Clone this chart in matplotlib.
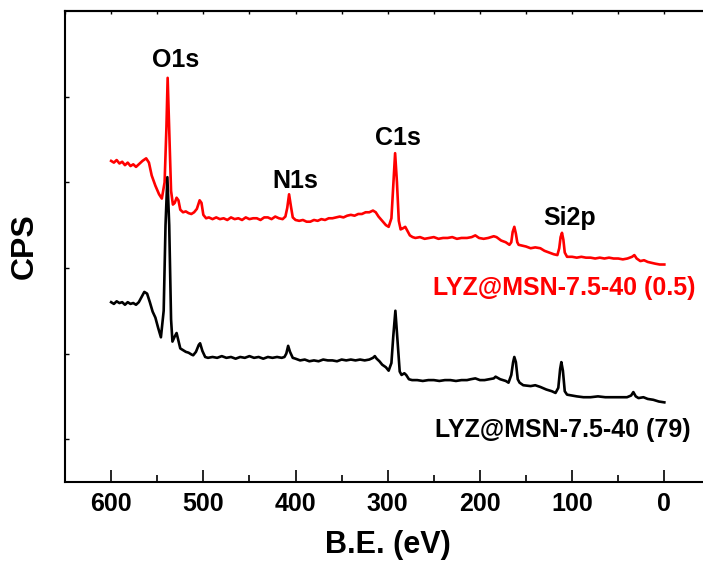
import matplotlib.pyplot as plt
from matplotlib.ticker import MultipleLocator

plt.rcParams['font.family'] = ['Liberation Sans', 'DejaVu Sans']
plt.rcParams['font.weight'] = 'bold'

# binding energy (eV) and CPS (arbitrary units)
be_red = [600, 597, 594, 591, 588, 585, 582, 579, 576, 573, 570, 566, 562, 559, 556,
          552, 548, 545, 542, 540, 538.7, 537, 535, 533, 531, 529, 527, 525, 522, 519,
          516, 513, 510, 507, 504, 502, 500, 497, 494, 490, 486, 482, 478, 474, 470,
          466, 462, 458, 454, 450, 446, 442, 438, 434, 430, 426, 422, 418, 414, 411,
          409, 407, 405, 403, 400, 396, 392, 388, 384, 380, 376, 372, 368, 364, 360,
          356, 352, 348, 344, 340, 336, 332, 328, 324, 320, 316, 313, 310, 306, 302,
          299, 296, 294, 292, 290, 288, 286, 284, 281, 279, 276, 273, 270, 265, 260,
          255, 250, 245, 240, 235, 230, 225, 220, 214, 209, 205, 201, 196, 191, 185,
          182, 177, 172, 168, 166, 164.5, 162.7, 161, 159.5, 158, 154, 150, 145, 140,
          134.5, 130, 125, 120, 116, 114, 112.5, 111, 109.5, 108, 105.5, 100, 95, 90,
          85, 80, 75, 70, 65, 60, 55, 50, 45, 40, 35, 32.5, 30, 26, 22, 18, 14, 10, 5, 0]
cps_red = [32.5, 32.3, 32.6, 32.2, 32.4, 32.0, 32.3, 31.9, 32.1, 31.8, 32.1, 32.5, 32.8, 32.3, 30.8,
           29.6, 28.6, 28.1, 30.0, 36.5, 42.2, 36.0, 29.0, 27.4, 27.6, 28.2, 27.9, 26.8, 26.5, 26.6,
           26.4, 26.3, 26.5, 26.9, 27.9, 27.6, 26.2, 25.8, 25.9, 25.7, 25.9, 25.7, 25.8, 25.6, 25.9,
           25.7, 25.8, 25.6, 25.9, 25.7, 25.8, 25.8, 25.6, 25.9, 25.9, 25.7, 26.0, 25.8, 25.7, 26.0,
           27.0, 28.6, 27.2, 25.9, 25.6, 25.5, 25.6, 25.4, 25.4, 25.6, 25.5, 25.7, 25.6, 25.8, 25.8,
           25.9, 26.0, 25.9, 26.1, 26.2, 26.1, 26.3, 26.3, 26.5, 26.5, 26.7, 26.5, 26.0, 25.5, 25.0,
           24.8, 25.8, 29.5, 33.4, 30.0, 25.5, 24.5, 24.6, 24.8, 24.4, 23.8, 23.6, 23.5, 23.6, 23.4,
           23.5, 23.6, 23.4, 23.5, 23.5, 23.6, 23.4, 23.5, 23.5, 23.6, 23.8, 23.5, 23.4, 23.5, 23.7,
           23.6, 23.2, 23.0, 22.7, 23.0, 24.2, 24.8, 24.0, 23.0, 22.7, 22.6, 22.5, 22.3, 22.4,
           22.3, 22.0, 21.8, 21.6, 21.5, 22.3, 23.6, 24.1, 23.3, 21.8, 21.3, 21.3, 21.2, 21.3,
           21.2, 21.2, 21.1, 21.2, 21.1, 21.2, 21.1, 21.1, 21.0, 21.1, 21.3, 21.5, 21.1, 20.8, 20.9, 20.7, 20.6, 20.5, 20.4, 20.4]

be_black = [600, 597, 594, 591, 588, 585, 582, 579, 576, 573, 570, 567, 564, 561, 558,
            555, 552, 549, 546, 543, 541, 539, 537, 535, 533.5, 531, 529, 527, 525, 522,
            519, 516, 513, 511, 508, 505, 503.5, 501, 498, 495, 490, 485, 480, 475, 470,
            465, 460, 455, 450, 445, 440, 435, 430, 425, 420, 415, 412, 410, 408, 406,
            403, 400, 395, 390, 385, 380, 375, 370, 365, 360, 355, 350, 345, 340, 335,
            330, 325, 320, 316, 314, 312, 309, 306, 302, 299, 296, 294, 291.7, 289, 287,
            285, 282, 280, 277, 273.6, 268, 262, 256, 250, 244, 238, 232, 226, 220, 214,
            210, 205, 200, 195, 190, 185, 183, 178, 172, 169, 166, 164, 162.7, 161, 159,
            157, 153, 145, 140, 134.5, 128, 122, 118, 115, 113, 111.7, 110, 108, 105.5,
            100, 95, 87.7, 80, 72, 64, 56, 48, 40.5, 36, 33.6, 31, 28, 22.7, 18, 12, 6, 0]
cps_black = [16.0, 15.8, 16.1, 15.9, 16.0, 15.7, 16.0, 15.8, 15.9, 15.7, 16.0, 16.6, 17.2, 17.0, 16.0,
             14.9, 14.2, 13.0, 11.9, 15.0, 25.0, 30.6, 25.0, 14.0, 11.4, 12.0, 12.4, 11.5, 10.6, 10.4,
             10.2, 10.1, 9.9, 9.8, 10.2, 11.0, 11.2, 10.3, 9.6, 9.5, 9.6, 9.5, 9.7, 9.5, 9.6,
             9.4, 9.6, 9.5, 9.7, 9.5, 9.6, 9.4, 9.6, 9.5, 9.6, 9.5, 9.6, 10.0, 10.9, 10.2,
             9.5, 9.4, 9.2, 9.3, 9.1, 9.2, 9.1, 9.3, 9.2, 9.2, 9.1, 9.3, 9.2, 9.3, 9.2,
             9.3, 9.2, 9.3, 9.5, 9.7, 9.4, 9.1, 8.7, 8.4, 8.0, 8.9, 12.0, 15.0, 11.0, 7.9,
             7.5, 7.7, 7.5, 7.0, 6.9, 6.9, 6.8, 6.9, 6.9, 6.8, 6.9, 6.9, 6.8, 6.9, 6.9,
             7.0, 7.1, 6.9, 6.9, 7.0, 7.1, 7.3, 7.0, 6.8, 6.6, 7.5, 9.0, 9.6, 9.0, 7.0,
             6.6, 6.3, 6.2, 6.3, 6.1, 5.8, 5.6, 5.4, 6.0, 8.2, 9.0, 8.0, 5.6, 5.2,
             5.1, 5.0, 4.9, 4.9, 5.0, 4.9, 4.9, 4.9, 4.9, 5.1, 5.5, 5.0, 4.8, 4.9, 4.7, 4.6, 4.4, 4.3]

peak_names = ['O1s', 'N1s', 'C1s', 'Si2p']
peak_x = [530, 400, 288.5, 103]
peak_y = [43.5, 29.3, 34.4, 25.0]

label_red = 'LYZ@MSN-7.5-40 (0.5)'
label_black = 'LYZ@MSN-7.5-40 (79)'

fig = plt.figure(figsize=(7.03, 5.64), dpi=100)
# right edge of the frame runs off the picture, as in the original
ax = fig.add_axes([0.0925, 0.1454, 0.95, 0.835])

ax.plot(be_red, cps_red, color='red', lw=1.9)
ax.plot(be_black, cps_black, color='black', lw=1.9)

# keep the scale of 100 eV ~ 92 px while the frame is wider
ax.set_xlim(650, 650 - 0.95 * 703 / 0.922)
ax.set_ylim(-5, 50)

# peak labels
for name, px, py in zip(peak_names, peak_x, peak_y):
    ax.text(px, py, name, fontsize=18, fontweight='bold', ha='center', va='baseline')

ax.text(-33.6, 16.8, label_red, color='red', fontsize=18, fontweight='bold',
        ha='right', va='baseline')
ax.text(-28.2, 0.3, label_black, color='black', fontsize=18, fontweight='bold',
        ha='right', va='baseline')

# ticks
ax.xaxis.set_minor_locator(MultipleLocator(50))
ax.set_xticks([600, 500, 400, 300, 200, 100, 0])
ax.tick_params(axis='x', which='major', direction='in', length=9, width=1.2,
               labelsize=18, pad=7)
ax.tick_params(axis='x', which='minor', direction='in', length=5, width=1.2)
ax.set_yticks([0, 10, 20, 30, 40])
ax.tick_params(axis='y', direction='in', length=3, width=1.0, labelleft=False)

top = ax.secondary_xaxis('top')
top.set_xticks(list(range(650, -50, -50)))
top.tick_params(direction='in', length=2, width=1.0, labeltop=False)

for s in ax.spines.values():
    s.set_linewidth(1.5)
top.spines['top'].set_linewidth(1.5)

ax.set_xlabel('B.E. (eV)', fontsize=22, fontweight='bold', labelpad=10)
ax.xaxis.label.set_x(0.4835)
ax.set_ylabel('CPS', fontsize=23, fontweight='bold', labelpad=18)

fig.savefig('out.png', dpi=100)
